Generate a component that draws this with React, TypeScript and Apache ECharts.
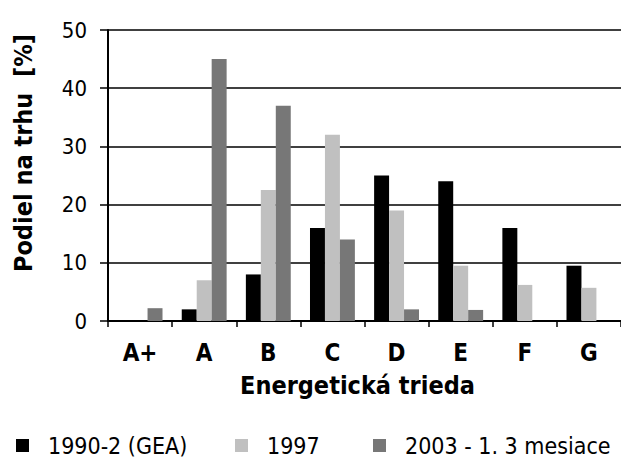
import React, { useEffect, useRef } from "react";
import * as echarts from "echarts";

const categories = ["A+", "A", "B", "C", "D", "E", "F", "G"];
const seriesNames = ["1990-2 (GEA)", "1997", "2003 - 1. 3 mesiace"];
const gea1990 = [null, 2, 8, 16, 25, 24, 16, 9.5];
const y1997 = [null, 7, 22.5, 32, 19, 9.5, 6.2, 5.7];
const y2003 = [2.2, 45, 37, 14, 2, 1.9, null, null];
const yTicks = { min: 0, max: 50, interval: 10 };

const FONT = "'DejaVu Sans Condensed', 'Liberation Sans Narrow', sans-serif";
const colors = ["#000000", "#c0c0c0", "#777777"];

export default function App() {
  const ref = useRef<HTMLDivElement>(null);
  useEffect(() => {
    if (!ref.current) return;
    const chart = echarts.init(ref.current, undefined, { renderer: "svg" });
    const legendLefts = [16, 235, 373];
    chart.setOption({
      animation: false,
      backgroundColor: "#ffffff",
      textStyle: { fontFamily: FONT },
      grid: { left: 108, top: 30, width: 516, height: 291, containLabel: false },
      legend: seriesNames.map((n, i) => ({
        data: [n],
        left: legendLefts[i],
        top: 434,
        padding: 0,
        itemWidth: 13,
        itemHeight: 13,
        icon: "rect",
        textStyle: { fontFamily: FONT, fontSize: 23, color: "#000", padding: [0, 0, 0, 14] },
        selectedMode: false,
      })),
      xAxis: {
        type: "category",
        data: categories,
        axisLine: { show: true, lineStyle: { color: "#000", width: 2 } },
        axisTick: { show: true, length: 6, lineStyle: { color: "#000", width: 1.5 } },
        axisLabel: { fontFamily: FONT, fontSize: 24, fontWeight: "bold", color: "#000", margin: 20 },
        name: "Energetická trieda",
        nameLocation: "middle",
        nameGap: 52,
        nameTextStyle: { fontFamily: FONT, fontSize: 25, fontWeight: "bold", color: "#000", padding: [0, 14, 0, 0] },
      },
      yAxis: {
        type: "value",
        min: yTicks.min,
        max: yTicks.max,
        interval: yTicks.interval,
        axisLine: { show: true, lineStyle: { color: "#000", width: 2 } },
        axisTick: { show: true, length: 8, lineStyle: { color: "#000", width: 1.5 } },
        splitLine: { show: true, lineStyle: { color: "#000", width: 1.5 } },
        axisLabel: { fontFamily: FONT, fontSize: 22, color: "#000", margin: 21 },
        name: "Podiel na trhu  [%]",
        nameLocation: "middle",
        nameRotate: 90,
        nameGap: 72,
        nameTextStyle: { fontFamily: FONT, fontSize: 25, fontWeight: "bold", color: "#000", padding: [0, 0, 0, 45] },
      },
      series: [gea1990, y1997, y2003].map((d, i) => ({
        name: seriesNames[i],
        type: "bar",
        data: d,
        barGap: "0%",
        barCategoryGap: "30%",
        itemStyle: { color: colors[i] },
      })),
    });
    return () => chart.dispose();
  }, []);
  return <div ref={ref} style={{ position: "fixed", left: 0, top: 0, width: 621, height: 459 }} />;
}
